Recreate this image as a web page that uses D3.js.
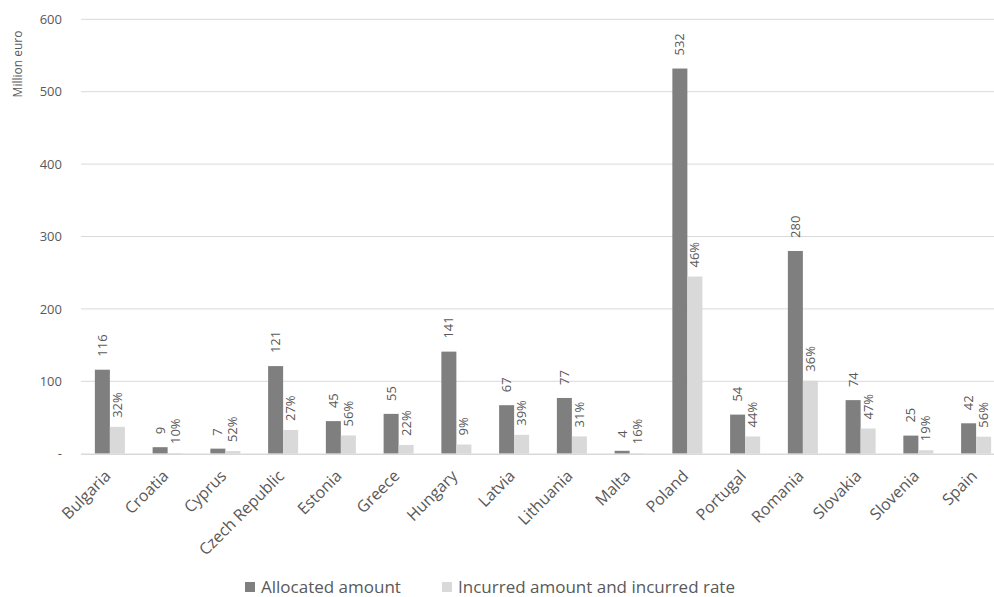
<!DOCTYPE html>
<html>
<head>
<meta charset="utf-8">
<script src="https://cdnjs.cloudflare.com/ajax/libs/d3/7.8.5/d3.min.js"></script>
<style>
  html, body { margin: 0; padding: 0; background: #fff; }
  svg text { font-family: "Open Sans", "Segoe UI", sans-serif; fill: #595959; }
</style>
</head>
<body>
<svg id="chart" width="994" height="597"></svg>
<script>
// Member states shown on the x axis
const countries = ["Bulgaria", "Croatia", "Cyprus", "Czech Republic", "Estonia", "Greece",
  "Hungary", "Latvia", "Lithuania", "Malta", "Poland", "Portugal", "Romania",
  "Slovakia", "Slovenia", "Spain"];

// Allocated amount, million euro
const allocated = [116, 9, 7, 121, 45, 55, 141, 67, 77, 4, 532, 54, 280, 74, 25, 42];

// Incurred amount, million euro
const incurred = [37.1, 0.9, 3.6, 32.7, 25.2, 12.1, 12.7, 26.1, 23.9, 0.6, 244.7, 23.8, 100.8, 34.8, 4.8, 23.5];

// Incurred rate labels shown above the incurred bars
const incurredRate = ["32%", "10%", "52%", "27%", "56%", "22%", "9%", "39%", "31%", "16%",
  "46%", "44%", "36%", "47%", "19%", "56%"];

// Y axis ticks
const yTicks = [0, 100, 200, 300, 400, 500, 600];

const seriesNames = ["Allocated amount", "Incurred amount and incurred rate"];
const seriesColors = ["#7f7f7f", "#d9d9d9"];

const svg = d3.select("#chart");

const plot = { left: 81, right: 1005, top: 19.3, bottom: 453.7 };

const x = d3.scaleBand()
  .domain(countries)
  .range([plot.left, plot.right])
  .paddingInner(0.48)
  .paddingOuter(0.24);

const xSub = d3.scaleBand()
  .domain([0, 1])
  .range([0, x.bandwidth()]);

const y = d3.scaleLinear()
  .domain([0, 600])
  .range([plot.bottom, plot.top]);

// Horizontal gridlines
svg.append("g")
  .selectAll("line")
  .data(yTicks.filter(d => d > 0))
  .join("line")
  .attr("x1", plot.left)
  .attr("x2", 994)
  .attr("y1", d => y(d))
  .attr("y2", d => y(d))
  .attr("stroke", "#d9d9d9")
  .attr("stroke-width", 1);

// Y axis tick labels (zero shown as a dash)
const yAxis = d3.axisLeft(y)
  .tickValues(yTicks)
  .tickSize(0)
  .tickPadding(0)
  .tickFormat(d => d === 0 ? "-" : d);

svg.append("g")
  .attr("transform", `translate(${plot.left - 19},0)`)
  .call(yAxis)
  .call(g => g.select(".domain").remove())
  .call(g => g.selectAll("text")
    .attr("font-size", 13)
    .style("font-family", "'Open Sans', sans-serif")
    .attr("fill", "#595959"));

// Y axis title
svg.append("text")
  .attr("transform", `translate(22,${64}) rotate(-90)`)
  .attr("text-anchor", "middle")
  .attr("font-size", 12)
  .text("Million euro");

// Bars
const groups = svg.append("g")
  .selectAll("g")
  .data(countries.map((c, i) => ({ c, vals: [allocated[i], incurred[i]], rate: incurredRate[i] })))
  .join("g")
  .attr("transform", d => `translate(${x(d.c)},0)`);

groups.selectAll("rect")
  .data(d => d.vals.map((v, k) => ({ v, k })))
  .join("rect")
  .attr("x", d => xSub(d.k))
  .attr("width", xSub.bandwidth())
  .attr("y", d => y(d.v))
  .attr("height", d => y(0) - y(d.v))
  .attr("fill", d => seriesColors[d.k]);

// Baseline
svg.append("line")
  .attr("x1", plot.left)
  .attr("x2", 994)
  .attr("y1", y(0) + 0.5)
  .attr("y2", y(0) + 0.5)
  .attr("stroke", "#d9d9d9")
  .attr("stroke-width", 1.5);

// Value labels, rotated
groups.each(function(d) {
  const g = d3.select(this);
  const cx0 = xSub(0) + xSub.bandwidth() / 2;
  const cx1 = xSub(1) + xSub.bandwidth() / 2;
  g.append("text")
    .attr("transform", `translate(${cx0 + 4.5},${y(d.vals[0]) - 13}) rotate(-90)`)
    .attr("font-size", 13)
    .attr("text-anchor", "start")
    .text(d.vals[0]);
  g.append("text")
    .attr("transform", `translate(${cx1 + 4.5},${y(d.vals[1]) - 9}) rotate(-90)`)
    .attr("font-size", 13)
    .attr("text-anchor", "start")
    .text(d.rate);
});

// Category labels, rotated 45 degrees
svg.append("g")
  .selectAll("text")
  .data(countries)
  .join("text")
  .attr("transform", d => `translate(${x(d) + x.bandwidth() / 2 + 2},${477}) rotate(-45)`)
  .attr("text-anchor", "end")
  .attr("font-size", 16)
  .text(d => d);

// Legend
const legendItems = [
  { name: seriesNames[0], color: seriesColors[0], x: 245 },
  { name: seriesNames[1], color: seriesColors[1], x: 442 }
];
const legend = svg.append("g");
legend.selectAll("rect")
  .data(legendItems)
  .join("rect")
  .attr("x", d => d.x)
  .attr("y", 582)
  .attr("width", 10)
  .attr("height", 10)
  .attr("fill", d => d.color);
legend.selectAll("text")
  .data(legendItems)
  .join("text")
  .attr("x", d => d.x + 16)
  .attr("y", 593)
  .attr("font-size", 17)
  .text(d => d.name);
</script>
</body>
</html>
